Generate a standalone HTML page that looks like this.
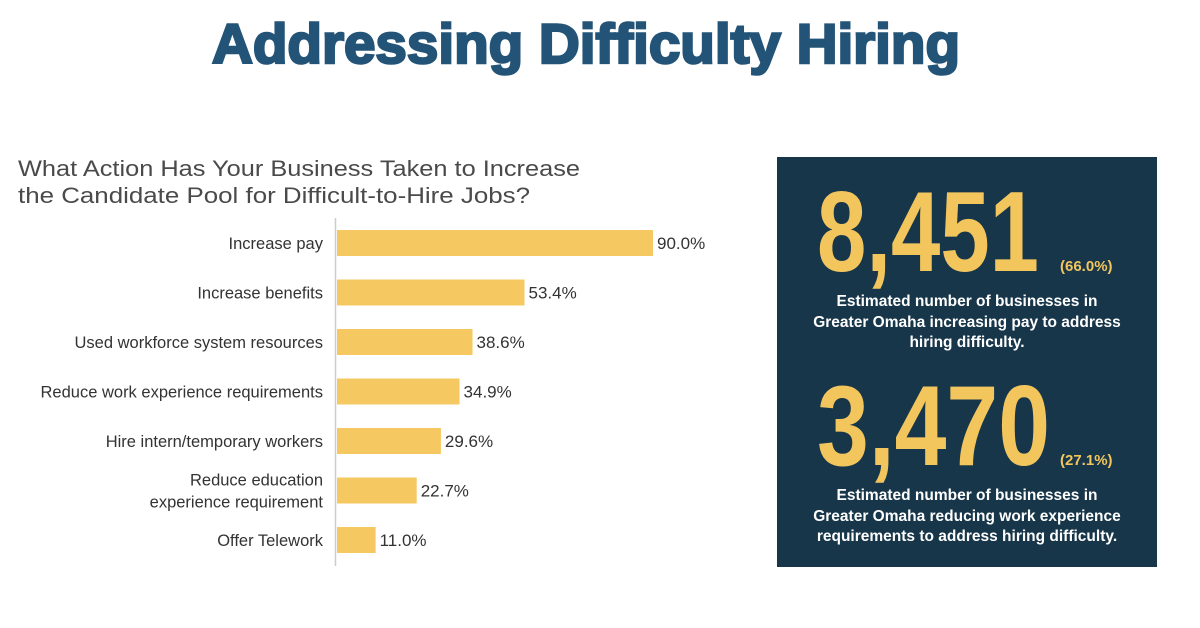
<!DOCTYPE html>
<html><head><meta charset="utf-8"><style>
body{margin:0;background:#fff;}
svg{display:block;font-family:"Liberation Sans",sans-serif;}
</style></head><body>
<svg width="1200" height="628" viewBox="0 0 1200 628">
<text x="212" y="63" font-size="56" font-weight="bold" fill="#235478" stroke="#235478" stroke-width="2.5" textLength="748" lengthAdjust="spacingAndGlyphs">Addressing Difficulty Hiring</text>
<text x="18" y="176" font-size="22" fill="#4a4a4a" textLength="562" lengthAdjust="spacingAndGlyphs">What Action Has Your Business Taken to Increase</text>
<text x="18" y="203" font-size="22" fill="#4a4a4a" textLength="512" lengthAdjust="spacingAndGlyphs">the Candidate Pool for Difficult-to-Hire Jobs?</text>
<line x1="335.5" y1="218" x2="335.5" y2="566" stroke="#ccc" stroke-width="1.5"/>
<g id="bars"></g>

<rect x="777" y="157" width="380" height="410" fill="#17364a"/>
<text x="817" y="271" font-size="114" font-weight="bold" fill="#f3c65d" textLength="222" lengthAdjust="spacingAndGlyphs" font-family="Liberation Sans Narrow, Liberation Sans, sans-serif">8,451</text>
<text x="1060" y="271" font-size="15" font-weight="bold" fill="#f3c65d">(66.0%)</text>
<g font-size="15.5" font-weight="bold" fill="#fff" text-anchor="middle">
<text x="967" y="306">Estimated number of businesses in</text>
<text x="967" y="327">Greater Omaha increasing pay to address</text>
<text x="967" y="347">hiring difficulty.</text>
<text x="967" y="500">Estimated number of businesses in</text>
<text x="967" y="521">Greater Omaha reducing work experience</text>
<text x="967" y="541">requirements to address hiring difficulty.</text>
</g>
<text x="817" y="465" font-size="114" font-weight="bold" fill="#f3c65d" textLength="233" lengthAdjust="spacingAndGlyphs" font-family="Liberation Sans Narrow, Liberation Sans, sans-serif">3,470</text>
<text x="1060" y="465" font-size="15" font-weight="bold" fill="#f3c65d">(27.1%)</text>
</svg>
<script>
const categories = ["Increase pay","Increase benefits","Used workforce system resources","Reduce work experience requirements","Hire intern/temporary workers","Reduce education|experience requirement","Offer Telework"];
const values = [90.0,53.4,38.6,34.9,29.6,22.7,11.0];
const valueLabels = ["90.0%","53.4%","38.6%","34.9%","29.6%","22.7%","11.0%"];
const NS="http://www.w3.org/2000/svg";
const g=document.getElementById('bars');
const x0=337, pxPer=(653-337)/90;
const xScale=v=>x0+v*pxPer;
const yScale=i=>243+i*49.5;
categories.forEach((c,i)=>{
  const cy=yScale(i);
  const r=document.createElementNS(NS,'rect');
  
  
  r.setAttribute('x',x0);r.setAttribute('y',cy-13);
  r.setAttribute('width',xScale(values[i])-x0);r.setAttribute('height',26);
  r.setAttribute('fill','#f5c862');g.appendChild(r);
  const v=document.createElementNS(NS,'text');
  
  
  v.setAttribute('x',xScale(values[i])+4);v.setAttribute('y',cy+6);
  v.setAttribute('font-size','17');v.setAttribute('fill','#333');
  v.textContent=valueLabels[i];g.appendChild(v);
  const parts=c.split('|');
  parts.forEach((p,j)=>{
    const t=document.createElementNS(NS,'text');
    
    
    t.setAttribute('x',323);
    t.setAttribute('y',cy+6+(parts.length>1?(j===0?-11:11):0));
    t.setAttribute('font-size','16.5');t.setAttribute('fill','#333');
    t.setAttribute('text-anchor','end');
    t.textContent=p;g.appendChild(t);
  });
});
</script>
</body></html>
